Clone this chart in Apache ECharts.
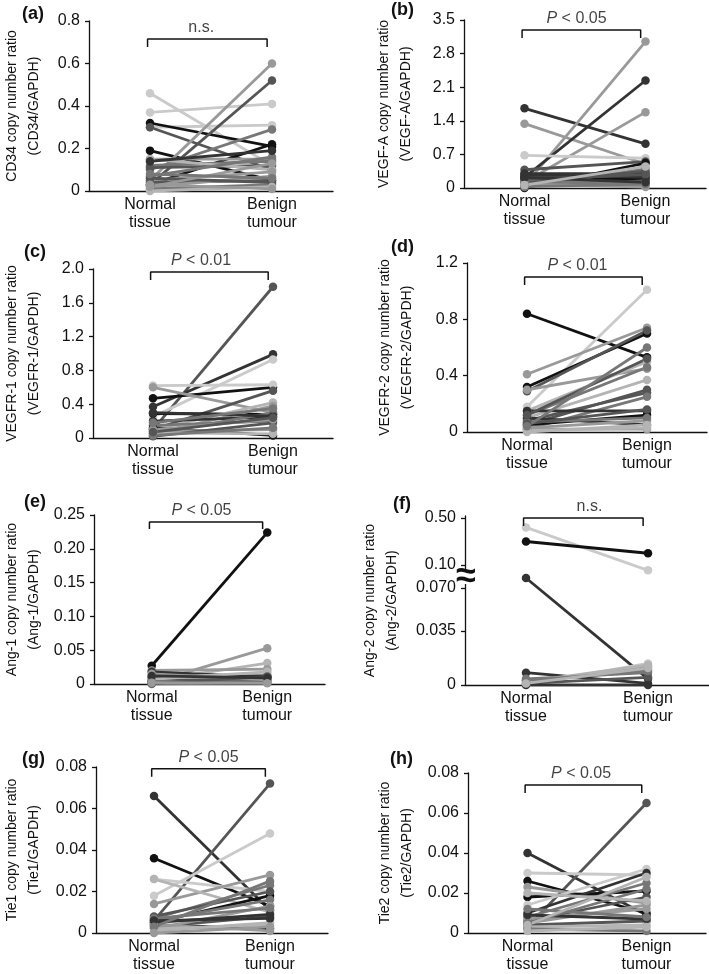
<!DOCTYPE html>
<html><head><meta charset="utf-8">
<script src="https://cdn.jsdelivr.net/npm/echarts@6/dist/echarts.min.js"></script>
<style>html,body{margin:0;padding:0;background:#fff}#c{width:709px;height:974px}</style>
</head><body><div id="c"></div>
<script>
const categories = ['Normal\ntissue', 'Benign\ntumour'];
const grays = ['#111111', '#333333', '#555555', '#777777', '#999999', '#b4b4b4', '#cacaca'];

// (a) CD34
const cd34Normal = [0.46, 0.37, 0.30, 0.32, 0.30, 0.19, 0.05, 0.03, 0.10, 0.03, 0.15, 0.12, 0.11, 0.15, 0.07, 0.05, 0.04, 0.02, 0.01, 0.06, 0.00, 0.02, 0.08, 0.03, 0.14];
const cd34Benign = [0.12, 0.41, 0.31, 0.21, 0.10, 0.05, 0.60, 0.52, 0.29, 0.22, 0.15, 0.14, 0.12, 0.10, 0.16, 0.09, 0.05, 0.07, 0.03, 0.04, 0.02, 0.13, 0.06, 0.01, 0.19];
const cd34Shade  = [6, 6, 6, 0, 2, 0, 4, 2, 3, 0, 4, 3, 2, 5, 3, 4, 2, 4, 3, 2, 5, 4, 3, 4, 1];

// (b) VEGF-A
const vegfaNormal = [1.66, 1.34, 0.05, 0.22, 0.12, 0.68, 0.38, 0.00, 0.30, 0.25, 0.20, 0.15, 0.10, 0.05, 0.02, 0.10, 0.28, 0.18, 0.08, 0.03, 0.22, 0.06];
const vegfaBenign = [0.92, 0.50, 3.05, 2.24, 1.58, 0.62, 0.55, 0.52, 0.30, 0.25, 0.18, 0.10, 0.05, 0.15, 0.40, 0.35, 0.22, 0.28, 0.02, 0.08, 0.12, 0.45];
const vegfaShade  = [1, 4, 4, 1, 4, 6, 2, 0, 1, 2, 0, 3, 4, 3, 3, 2, 1, 2, 4, 3, 1, 5];

// (c) VEGFR-1
const vegfr1Normal = [0.10, 0.37, 0.25, 0.47, 0.62, 0.60, 0.10, 0.29, 0.10, 0.05, 0.20, 0.15, 0.12, 0.08, 0.05, 0.02, 0.10, 0.30, 0.06, 0.03, 0.18, 0.07];
const vegfr1Benign = [1.79, 0.99, 0.93, 0.60, 0.63, 0.30, 0.56, 0.28, 0.42, 0.38, 0.25, 0.20, 0.03, 0.10, 0.30, 0.18, 0.22, 0.26, 0.05, 0.12, 0.35, 0.24];
const vegfr1Shade  = [2, 1, 6, 0, 6, 4, 2, 0, 5, 4, 1, 3, 0, 4, 3, 2, 4, 1, 5, 3, 3, 2];

// (d) VEGFR-2
const vegfr2Normal = [0.84, 0.18, 0.32, 0.41, 0.29, 0.30, 0.15, 0.12, 0.10, 0.05, 0.08, 0.02, 0.15, 0.05, 0.10, 0.02, 0.03, 0.07, 0.00, 0.12, 0.06, 0.01, 0.04];
const vegfr2Benign = [0.53, 1.01, 0.70, 0.74, 0.72, 0.45, 0.50, 0.46, 0.37, 0.30, 0.28, 0.25, 0.15, 0.12, 0.05, 0.02, 0.08, 0.10, 0.05, 0.52, 0.16, 0.03, 0.60];
const vegfr2Shade  = [0, 6, 0, 4, 2, 4, 5, 3, 5, 2, 2, 3, 1, 0, 1, 4, 4, 3, 5, 2, 2, 5, 3];

// (e) Ang-1
const ang1Normal = [0.027, 0.002, 0.005, 0.020, 0.018, 0.010, 0.005, 0.003, 0.000, 0.010, 0.007, 0.004, 0.015, 0.001, 0.012, 0.002];
const ang1Benign = [0.224, 0.053, 0.031, 0.022, 0.010, 0.015, 0.008, 0.005, 0.002, 0.012, 0.018, 0.003, 0.006, 0.011, 0.009, 0.001];
const ang1Shade  = [0, 4, 5, 4, 1, 6, 2, 2, 3, 1, 5, 3, 4, 2, 1, 4];

// (f) Ang-2 (broken axis)
const ang2Normal = [0.42, 0.30, 0.083, 0.008, 0.002, 0.003, 0.000, 0.004, 0.001, 0.000, 0.002, 0.003, 0.001];
const ang2Benign = [0.093, 0.20, 0.004, 0.001, 0.012, 0.010, 0.014, 0.008, 0.005, 0.000, 0.013, 0.009, 0.011];
const ang2Shade  = [6, 0, 1, 1, 4, 4, 6, 3, 2, 1, 5, 3, 5];
const ang2TickValues = [0, 0.035, 0.070, 0.10, 0.50];
const ang2TickLabels = ['0', '0.035', '0.070', '0.10', '0.50'];

// (g) Tie1
const tie1Normal = [0.066, 0.006, 0.036, 0.018, 0.026, 0.014, 0.026, 0.007, 0.005, 0.004, 0.006, 0.003, 0.002, 0.008, 0.001, 0.005, 0.004, 0.007, 0.002, 0.006, 0.003, 0.000];
const tie1Benign = [0.011, 0.072, 0.013, 0.048, 0.020, 0.028, 0.010, 0.023, 0.018, 0.002, 0.016, 0.008, 0.013, 0.020, 0.005, 0.009, 0.001, 0.012, 0.004, 0.007, 0.025, 0.003];
const tie1Shade  = [1, 2, 0, 6, 6, 4, 5, 3, 0, 0, 3, 2, 4, 2, 5, 1, 4, 3, 5, 1, 3, 4];

// (h) Tie2
const tie2Normal = [0.040, 0.003, 0.030, 0.026, 0.023, 0.018, 0.014, 0.010, 0.008, 0.006, 0.005, 0.004, 0.003, 0.002, 0.007, 0.009, 0.001, 0.005, 0.020, 0.012, 0.004];
const tie2Benign = [0.009, 0.065, 0.029, 0.010, 0.015, 0.021, 0.032, 0.030, 0.025, 0.018, 0.014, 0.006, 0.004, 0.001, 0.012, 0.007, 0.003, 0.022, 0.016, 0.008, 0.028];
const tie2Shade  = [1, 2, 6, 0, 4, 0, 6, 1, 3, 2, 4, 2, 5, 3, 4, 1, 5, 3, 5, 3, 5];

// piecewise display mapping for the broken Ang-2 axis
const ang2Knots = [0, 54, 97, 120, 167];
function ang2Display(v) {
  for (let i = 1; i < ang2TickValues.length; i++) {
    if (v <= ang2TickValues[i]) {
      const a = ang2TickValues[i - 1], b = ang2TickValues[i];
      return ang2Knots[i - 1] + (v - a) / (b - a) * (ang2Knots[i] - ang2Knots[i - 1]);
    }
  }
  return ang2Knots[ang2Knots.length - 1];
}

const FONT = "'Liberation Sans', Arial, Helvetica, sans-serif";
const panels = [
  {tag: '(a)', tagPos: [22, 5], name: 'CD34 copy number ratio\n(CD34/GAPDH)', n: cd34Normal, b: cd34Benign, s: cd34Shade,
   max: 0.8, interval: 0.2, dec: 1, sig: 'n.s.', grid: [87, 21, 246, 170], gap: 44, br: [0.715, 0.678], tx: 0.42},
  {tag: '(b)', tagPos: [391, 1], name: 'VEGF-A copy number ratio\n(VEGF-A/GAPDH)', n: vegfaNormal, b: vegfaBenign, s: vegfaShade,
   max: 3.5, interval: 0.7, dec: 1, sig: '{i|P} < 0.05', grid: [464, 20, 242, 168], gap: 47, br: [3.29, 3.125], tx: 0.43},
  {tag: '(c)', tagPos: [24, 243], name: 'VEGFR-1 copy number ratio\n(VEGFR-1/GAPDH)', n: vegfr1Normal, b: vegfr1Benign, s: vegfr1Shade,
   max: 2.0, interval: 0.4, dec: 1, sig: '{i|P} < 0.01', grid: [92, 269, 241, 169], gap: 48, br: [1.964, 1.870], tx: 0.40},
  {tag: '(d)', tagPos: [391, 238], name: 'VEGFR-2 copy number ratio\n(VEGFR-2/GAPDH)', n: vegfr2Normal, b: vegfr2Benign, s: vegfr2Shade,
   max: 1.2, interval: 0.4, dec: 1, sig: '{i|P} < 0.01', grid: [467, 263, 240, 169], gap: 49, br: [1.101, 1.044], tx: 0.42},
  {tag: '(e)', tagPos: [24, 493], name: 'Ang-1 copy number ratio\n(Ang-1/GAPDH)', n: ang1Normal, b: ang1Benign, s: ang1Shade,
   max: 0.25, interval: 0.05, dec: 2, sig: '{i|P} < 0.05', grid: [92, 515, 233, 169], gap: 49, br: [0.2396, 0.2293], tx: 0.43},
  {tag: '(f)', tagPos: [393, 495], name: 'Ang-2 copy number ratio\n(Ang-2/GAPDH)', n: ang2Normal, b: ang2Benign, s: ang2Shade,
   broken: true, sig: 'n.s.', grid: [465, 516, 244, 169], gap: 62, br: [167, 159], tx: 0.52},
  {tag: '(g)', tagPos: [22, 750], name: 'Tie1 copy number ratio\n(Tie1/GAPDH)', n: tie1Normal, b: tie1Benign, s: tie1Shade,
   max: 0.08, interval: 0.02, dec: 2, sig: '{i|P} < 0.05', grid: [94, 767, 234, 169], gap: 51, br: [0.0791, 0.0753], tx: 0.47},
  {tag: '(h)', tagPos: [390, 750], name: 'Tie2 copy number ratio\n(Tie2/GAPDH)', n: tie2Normal, b: tie2Benign, s: tie2Shade,
   max: 0.08, interval: 0.02, dec: 2, sig: '{i|P} < 0.05', grid: [468, 773, 238, 160], gap: 50, br: [0.074, 0.070], tx: 0.45}
];

const option = {animation: false, backgroundColor: '#fff', textStyle: {fontFamily: FONT},
  grid: [], xAxis: [], yAxis: [], series: [], title: []};

panels.forEach((p, i) => {
  option.grid.push({left: p.grid[0], top: p.grid[1], width: p.grid[2], height: p.grid[3], containLabel: false});
  option.title.push({text: p.tag, left: p.tagPos[0], top: p.tagPos[1], padding: 0,
    textStyle: {fontFamily: FONT, fontSize: 18, fontWeight: 'bold', color: '#111'}});
  option.xAxis.push({type: 'value', gridIndex: i, min: -0.5, max: 1.5,
    axisLine: {show: true, onZero: false, lineStyle: {color: '#111', width: 1.3}},
    axisTick: {show: false}, splitLine: {show: false},
    axisLabel: {customValues: [0, 1], formatter: v => categories[Math.round(v)],
      fontFamily: FONT, fontSize: 16, lineHeight: 18, color: '#111', margin: 5}});
  const y = {type: 'value', gridIndex: i, min: 0,
    axisLine: {show: true, onZero: false, lineStyle: {color: '#111', width: 1.3}},
    axisTick: {show: true, length: 4, lineStyle: {color: '#111', width: 1.3}},
    splitLine: {show: false},
    name: p.name, nameLocation: 'middle', nameGap: p.gap,
    nameTextStyle: {fontFamily: FONT, fontSize: 14, lineHeight: 22, color: '#111'}};
  if (p.broken) {
    y.max = 169;
    y.axisLabel = {customValues: ang2Knots, fontFamily: FONT, fontSize: 16, color: '#111', margin: 9,
      formatter: v => ang2TickLabels[ang2Knots.indexOf(v)]};
    y.axisTick.customValues = ang2Knots;
  } else {
    y.max = p.max; y.interval = p.interval;
    y.axisLabel = {fontFamily: FONT, fontSize: 16, color: '#111', margin: 9,
      formatter: v => v === 0 ? '0' : v.toFixed(p.dec)};
  }
  option.yAxis.push(y);
  const f = p.broken ? ang2Display : (v => v);
  p.n.forEach((nv, k) => {
    const c = grays[p.s[k]];
    option.series.push({type: 'line', xAxisIndex: i, yAxisIndex: i, silent: true,
      data: [[0, f(nv)], [1, f(p.b[k])]], symbol: 'circle', symbolSize: 8.5, showSymbol: true,
      lineStyle: {color: c, width: 2.8}, itemStyle: {color: c}});
  });
  option.series.push({type: 'line', xAxisIndex: i, yAxisIndex: i, silent: true, symbol: 'none',
    data: [[-0.02, p.br[1]], [-0.02, p.br[0]], [0.96, p.br[0]], [0.96, p.br[1]]],
    lineStyle: {color: '#111', width: 1.5}, z: 5});
  option.series.push({type: 'scatter', xAxisIndex: i, yAxisIndex: i, silent: true, symbolSize: 1,
    itemStyle: {color: 'rgba(0,0,0,0)'}, data: [[p.tx, p.br[0]]],
    label: {show: true, position: 'top', distance: 3, formatter: p.sig,
      fontFamily: FONT, fontSize: 16, color: '#111',
      rich: {i: {fontFamily: FONT, fontSize: 16, fontStyle: 'italic', color: '#111'}}}});
});

const chart = echarts.init(document.getElementById('c'), null, {renderer: 'canvas'});
chart.setOption(option);
const bp = chart.convertToPixel({gridIndex: 5}, [-0.5, 108]);
chart.setOption({graphic: [
  {type: 'rect', shape: {x: bp[0] - 3, y: bp[1] - 7, width: 6, height: 14}, style: {fill: '#fff'}, z: 100},
  {type: 'text', x: bp[0] + 1, y: bp[1], z: 101,
   style: {text: '\u2248', fontSize: 36, fontWeight: 'bold', fontFamily: FONT, fill: '#111', align: 'center', verticalAlign: 'middle'}}
]});
</script></body></html>
